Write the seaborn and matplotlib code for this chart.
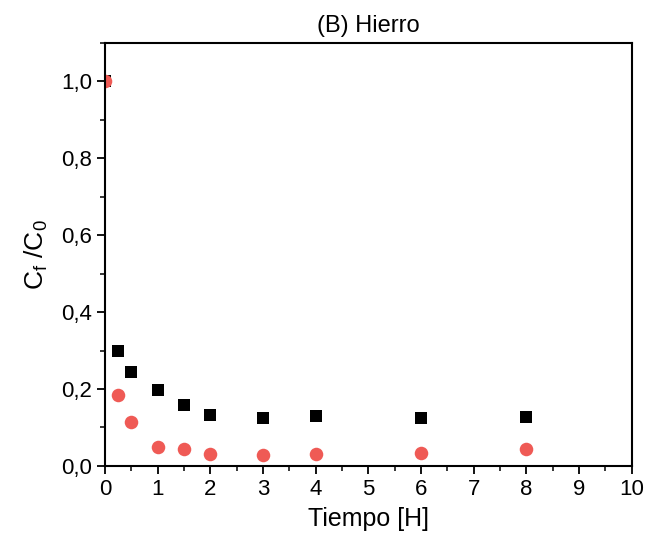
import matplotlib
matplotlib.use("Agg")
import matplotlib.pyplot as plt
import seaborn as sns
import pandas as pd
from matplotlib.ticker import MultipleLocator, FuncFormatter
from matplotlib.path import Path

tiempo = [0, 0.25, 0.5, 1, 1.5, 2, 3, 4, 6, 8]
serie_negra = [1.0, 0.300, 0.245, 0.196, 0.159, 0.132, 0.124, 0.130, 0.124, 0.128]
serie_roja = [1.0, 0.185, 0.114, 0.049, 0.045, 0.031, 0.029, 0.032, 0.033, 0.045]

sns.set_theme(style="ticks")
plt.rcParams['font.family'] = ['Liberation Sans', 'DejaVu Sans']
plt.rcParams['text.color'] = 'black'
plt.rcParams['axes.labelcolor'] = 'black'

fig = plt.figure(figsize=(6.65, 5.5), dpi=100)
ax = fig.add_axes([0.158, 0.153, 0.792, 0.769])

df_n = pd.DataFrame({"t": tiempo, "c": serie_negra})
df_r = pd.DataFrame({"t": tiempo, "c": serie_roja})
sns.scatterplot(data=df_n, x="t", y="c", ax=ax, marker="s", color="black", s=80, linewidth=0, zorder=3)
sns.scatterplot(data=df_r, x="t", y="c", ax=ax, marker="o", color="#ef5a55", s=95, linewidth=0, zorder=4)

clip = Path([(0, 0), (1, 0), (1, 1), (0, 1), (0.0, 0.0)],
            [Path.MOVETO, Path.LINETO, Path.LINETO, Path.LINETO, Path.LINETO])
for coll in ax.collections:
    coll.set_clip_path(clip, ax.transAxes)

ax.set_xlim(0, 10)
ax.set_ylim(0, 1.1)
ax.xaxis.set_major_locator(MultipleLocator(1))
ax.xaxis.set_minor_locator(MultipleLocator(0.5))
ax.yaxis.set_major_locator(MultipleLocator(0.2))
ax.yaxis.set_minor_locator(MultipleLocator(0.1))
ax.yaxis.set_major_formatter(FuncFormatter(lambda v, p: f"{v:.1f}".replace(".", ",")))
ax.tick_params(which="major", direction="out", length=6, width=1.3, labelsize=16, colors="black")
ax.tick_params(which="minor", direction="out", length=3.5, width=1.1, colors="black")
for s in ax.spines.values():
    s.set_linewidth(1.5)
    s.set_color("black")
    s.set_zorder(5)

ax.set_xlabel("Tiempo [H]", fontsize=18, labelpad=5)
ax.set_ylabel(r"C$_\mathregular{f}$ /C$_\mathregular{0}$", fontsize=19, labelpad=8)
ax.set_title("(B) Hierro", fontsize=17, pad=8)

fig.savefig("out.png", dpi=100)
